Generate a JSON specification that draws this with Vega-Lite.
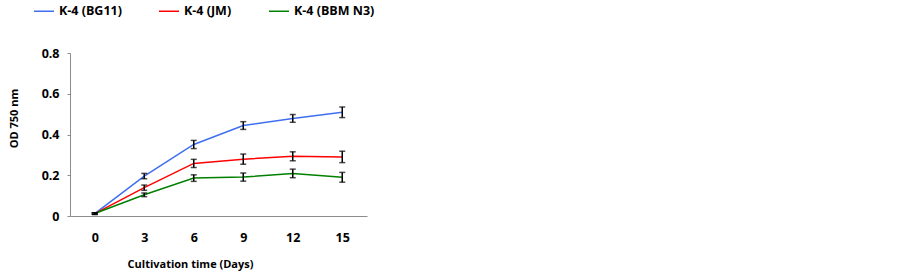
{
  "$schema": "https://vega.github.io/schema/vega-lite/v6.json",
  "autosize": "none",
  "width": 297,
  "height": 163,
  "padding": {"left": 70, "top": 53, "right": 535, "bottom": 63},
  "background": "white",
  "config": {
    "font": "Open Sans",
    "view": {"stroke": null},
    "axis": {"labelFont": "Open Sans", "titleFont": "Open Sans", "labelFontWeight": "bold", "titleFontWeight": "bold", "labelFontSize": 12.5, "titleFontSize": 11, "labelColor": "black", "titleColor": "black", "domainColor": "#8c8c8c", "tickColor": "#8c8c8c", "grid": false}
  },
  "data": {"values": [
    {"day": 0, "series": "K-4 (BG11)", "od": 0.012, "err": 0.004},
    {"day": 3, "series": "K-4 (BG11)", "od": 0.196, "err": 0.013},
    {"day": 6, "series": "K-4 (BG11)", "od": 0.351, "err": 0.02},
    {"day": 9, "series": "K-4 (BG11)", "od": 0.444, "err": 0.019},
    {"day": 12, "series": "K-4 (BG11)", "od": 0.479, "err": 0.019},
    {"day": 15, "series": "K-4 (BG11)", "od": 0.509, "err": 0.026},
    {"day": 0, "series": "K-4 (JM)", "od": 0.012, "err": 0.004},
    {"day": 3, "series": "K-4 (JM)", "od": 0.139, "err": 0.013},
    {"day": 6, "series": "K-4 (JM)", "od": 0.258, "err": 0.02},
    {"day": 9, "series": "K-4 (JM)", "od": 0.279, "err": 0.025},
    {"day": 12, "series": "K-4 (JM)", "od": 0.293, "err": 0.022},
    {"day": 15, "series": "K-4 (JM)", "od": 0.29, "err": 0.028},
    {"day": 0, "series": "K-4 (BBM N3)", "od": 0.012, "err": 0.004},
    {"day": 3, "series": "K-4 (BBM N3)", "od": 0.104, "err": 0.009},
    {"day": 6, "series": "K-4 (BBM N3)", "od": 0.186, "err": 0.016},
    {"day": 9, "series": "K-4 (BBM N3)", "od": 0.191, "err": 0.02},
    {"day": 12, "series": "K-4 (BBM N3)", "od": 0.209, "err": 0.021},
    {"day": 15, "series": "K-4 (BBM N3)", "od": 0.19, "err": 0.024}
  ]},
  "encoding": {
    "x": {"field": "day", "type": "ordinal", "scale": {"type": "point", "padding": 0.5},
      "axis": {"title": "Cultivation time (Days)", "labelAngle": 0, "ticks": false, "labelPadding": 15, "titleX": 120, "titlePadding": 15}}
  },
  "layer": [
    {
      "mark": {"type": "line", "strokeWidth": 1.5},
      "encoding": {
        "y": {"field": "od", "type": "quantitative", "scale": {"domain": [0, 0.8]}, "title": "OD  750 nm",
          "axis": {"title": "OD  750 nm", "values": [0, 0.2, 0.4, 0.6, 0.8], "tickSize": 3, "labelPadding": 8, "titlePadding": 22, "titleY": 65, "labelExpr": "datum.value == 0 ? '0' : format(datum.value, '.1f')"}},
        "color": {"field": "series", "type": "nominal", "sort": ["K-4 (BG11)", "K-4 (JM)", "K-4 (BBM N3)"],
          "scale": {"domain": ["K-4 (BG11)", "K-4 (JM)", "K-4 (BBM N3)"], "range": ["#3f6ff0", "#ff0000", "#008000"]},
          "legend": {"title": null, "orient": "none", "legendX": -37, "legendY": -53, "direction": "horizontal", "symbolType": "stroke", "symbolSize": 400, "symbolStrokeWidth": 1.5, "labelFontWeight": "bold", "labelFontSize": 12.5, "labelFont": "Open Sans", "labelColor": "black", "columnPadding": 34, "labelOffset": 4, "padding": 0}}
      }
    },
    {
      "mark": {"type": "errorbar", "color": "black", "thickness": 1.5, "ticks": {"size": 6, "thickness": 1.5, "color": "black"}},
      "encoding": {
        "y": {"field": "od", "type": "quantitative", "title": "OD  750 nm"},
        "yError": {"field": "err"},
        "detail": {"field": "series"}
      }
    }
  ]
}
